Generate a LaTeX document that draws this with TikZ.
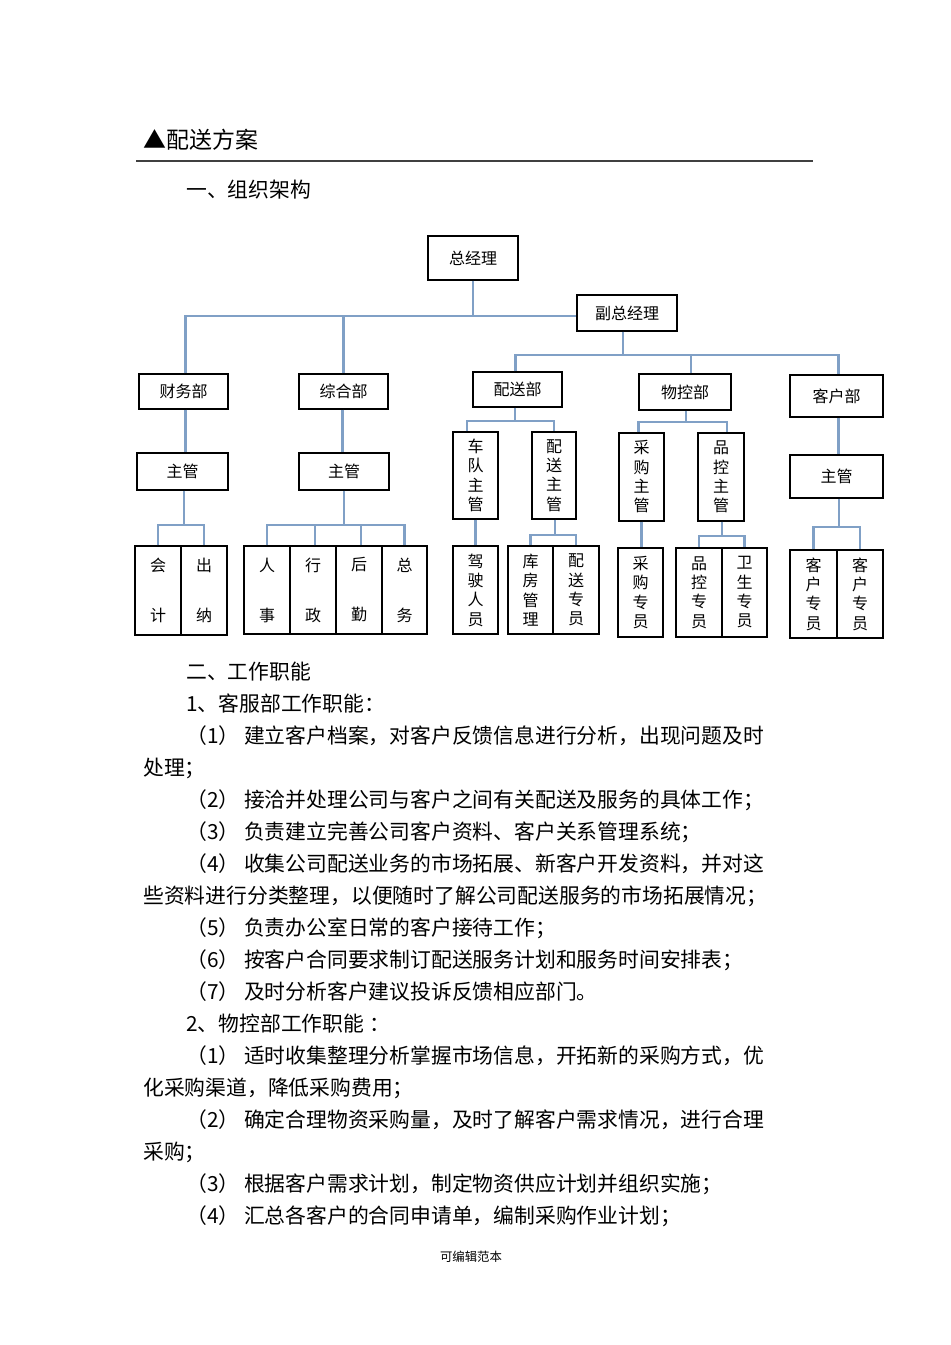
\documentclass[tikz,border=0pt]{standalone}
\usepackage{fontspec}
\setmainfont{Noto Sans CJK SC}
\usetikzlibrary{calc}
\definecolor{connc}{RGB}{128,160,198}
\tikzset{
  box/.style={draw=black, line width=0.8pt, inner sep=0pt, align=center, font=\fontsize{12}{14.5}\selectfont},
  vgap/.style={font=\fontsize{12}{37.5}\selectfont},
  conn/.style={draw=connc, line width=2.2pt},
  body/.style={anchor=base west, inner sep=0pt, font=\fontsize{15.6}{18}\selectfont},
}
\newcommand\bx[7][]{%
  \pgfmathsetmacro\bxw{(#5-#3)*0.75}%
  \pgfmathsetmacro\bxh{(#6-#4)*0.75}%
  \node[box,#1, minimum width=\bxw pt, minimum height=\bxh pt] (#2) at ({(#3+#5)/2},{(#4+#6)/2}) {#7};}
\newcommand\np[1]{（#1）\hspace{3.5pt}}
\begin{document}
\begin{tikzpicture}[x=0.75pt,y=-0.75pt]
\useasboundingbox (0,0) rectangle (950,1345);
% title
\node[anchor=base west, inner sep=0pt, font=\fontsize{17.2}{20}\selectfont] (title) at (143,148.5) {▲配送方案};
\draw[line width=0.8pt, color=black!75] (136,161) -- (813,161);
\node[body] (sec1) at (186,197) {一、组织架构};
% boxes
\bx{zjl}{428}{236}{518}{280}{总经理}
\bx{fzjl}{577}{295}{677}{331}{副总经理}
\bx{cwb}{139}{374}{228}{409}{财务部}
\bx{zhb}{299}{374}{388}{409}{综合部}
\bx{psb}{473}{372}{562}{407}{配送部}
\bx{wkb}{639}{374}{731}{410}{物控部}
\bx{khb}{790}{375}{883}{417}{客户部}
\bx{zga}{137}{453}{228}{490}{主管}
\bx{zgb}{299}{453}{389}{490}{主管}
\bx{zgc}{790}{455}{883}{498}{主管}
\bx[vgap]{kj}{135}{546}{181}{635}{会\\计}
\bx[vgap]{cn}{181}{546}{227}{635}{出\\纳}
\bx[vgap]{rs}{244}{546}{290}{634}{人\\事}
\bx[vgap]{xz}{290}{546}{336}{634}{行\\政}
\bx[vgap]{hq}{336}{546}{382}{634}{后\\勤}
\bx[vgap]{zw}{382}{546}{427}{634}{总\\务}
\bx{cdzg}{453}{432}{498}{519}{车\\队\\主\\管}
\bx{pszg}{532}{432}{576}{519}{配\\送\\主\\管}
\bx{jsry}{453}{546}{498}{634}{驾\\驶\\人\\员}
\bx{kfgl}{508}{546}{553}{634}{库\\房\\管\\理}
\bx{pszy}{553}{546}{599}{634}{配\\送\\专\\员}
\bx{cgzg}{619}{433}{664}{521}{采\\购\\主\\管}
\bx{pkzg}{698}{433}{744}{521}{品\\控\\主\\管}
\bx{cgzy}{618}{548}{663}{637}{采\\购\\专\\员}
\bx{pkzy}{676}{548}{722}{637}{品\\控\\专\\员}
\bx{wszy}{722}{548}{767}{637}{卫\\生\\专\\员}
\bx{kha}{790}{550}{837}{638}{客\\户\\专\\员}
\bx{khb2}{837}{550}{883}{638}{客\\户\\专\\员}
% bus coordinates
\coordinate (b1) at (473,316);
\coordinate (b2) at (623,355);
\coordinate (b3) at (184,525);
\coordinate (b4) at (344,525);
\coordinate (b5) at (515,421);
\coordinate (b6) at (555,535);
\coordinate (b7) at (686,422);
\coordinate (b8) at (722,536);
\coordinate (b9) at (839,527);
% connectors
\draw[conn] (zjl.south) -- (b1);
\draw[conn] ([xshift=1.8pt]cwb.north) |- (fzjl.west |- b1);
\draw[conn] (zhb.north) -- (zhb.north |- b1);
\draw[conn] (b2 |- fzjl.south) -- (b2);
\draw[conn] ([xshift=-1.8pt]psb.north) |- (b2) -| ([xshift=1.8pt]khb.north);
\draw[conn] ([xshift=4.5pt]wkb.north) -- ([xshift=4.5pt]wkb.north |- b2);
\draw[conn] ([xshift=1.8pt]cwb.south) -- ([xshift=1.8pt]cwb.south |- zga.north);
\draw[conn] ([xshift=-1pt]zhb.south) -- ([xshift=-1pt]zhb.south |- zgb.north);
\draw[conn] ([xshift=1.8pt]khb.south) -- ([xshift=1.8pt]khb.south |- zgc.north);
\draw[conn] (b3 |- zga.south) -- (b3);
\draw[conn] (kj.north) |- (b3) -| (cn.north);
\draw[conn] (b4 |- zgb.south) -- (b4);
\draw[conn] (rs.north) |- (b4) -| (zw.north);
\draw[conn] ([xshift=1.5pt]xz.north) -- ([xshift=1.5pt]xz.north |- b4);
\draw[conn] ([xshift=1.5pt]hq.north) -- ([xshift=1.5pt]hq.north |- b4);
\draw[conn] (b5 |- psb.south) -- (b5);
\draw[conn] ([xshift=-6.4pt]cdzg.north) |- (b5) -| (pszg.north);
\draw[conn] (cdzg.south) -- (jsry.north);
\draw[conn] (b6 |- pszg.south) -- (b6);
\draw[conn] (kfgl.north) |- (b6) -| (pszy.north);
\draw[conn] (b7 |- wkb.south) -- (b7);
\draw[conn] ([xshift=-2pt]cgzg.north) |- (b7) -| ([xshift=4.5pt]pkzg.north);
\draw[conn] (cgzg.south) -- (cgzg.south |- cgzy.north);
\draw[conn] (b8 |- pkzg.south) -- (b8);
\draw[conn] (pkzy.north) |- (b8) -| (wszy.north);
\draw[conn] (b9 |- zgc.south) -- (b9);
\draw[conn] (kha.north) |- (b9) -| (khb2.north);
% body text
\node[body] (l1) at (186,679) {二、工作职能};
\node[body] (l2) at (186,711) {1、客服部工作职能：};
\node[body] (l3) at (186,743) {\np{1}建立客户档案，对客户反馈信息进行分析，出现问题及时};
\node[body] (l4) at (143,775) {处理；};
\node[body] (l5) at (186,807) {\np{2}接洽并处理公司与客户之间有关配送及服务的具体工作；};
\node[body] (l6) at (186,839) {\np{3}负责建立完善公司客户资料、客户关系管理系统；};
\node[body] (l7) at (186,871) {\np{4}收集公司配送业务的市场拓展、新客户开发资料，并对这};
\node[body] (l8) at (143,903) {些资料进行分类整理，以便随时了解公司配送服务的市场拓展情况；};
\node[body] (l9) at (186,935) {\np{5}负责办公室日常的客户接待工作；};
\node[body] (l10) at (186,967) {\np{6}按客户合同要求制订配送服务计划和服务时间安排表；};
\node[body] (l11) at (186,999) {\np{7}及时分析客户建议投诉反馈相应部门。};
\node[body] (l12) at (186,1031) {2、物控部工作职能\hspace{4pt}：};
\node[body] (l13) at (186,1063) {\np{1}适时收集整理分析掌握市场信息，开拓新的采购方式，优};
\node[body] (l14) at (143,1095) {化采购渠道，降低采购费用；};
\node[body] (l15) at (186,1127) {\np{2}确定合理物资采购量，及时了解客户需求情况，进行合理};
\node[body] (l16) at (143,1159) {采购；};
\node[body] (l17) at (186,1191) {\np{3}根据客户需求计划，制定物资供应计划并组织实施；};
\node[body] (l18) at (186,1223) {\np{4}汇总各客户的合同申请单，编制采购作业计划；};
\node[inner sep=0pt, font=\fontsize{9.3}{11}\selectfont] (foot) at (471,1257) {可编辑范本};
\end{tikzpicture}
\end{document}
